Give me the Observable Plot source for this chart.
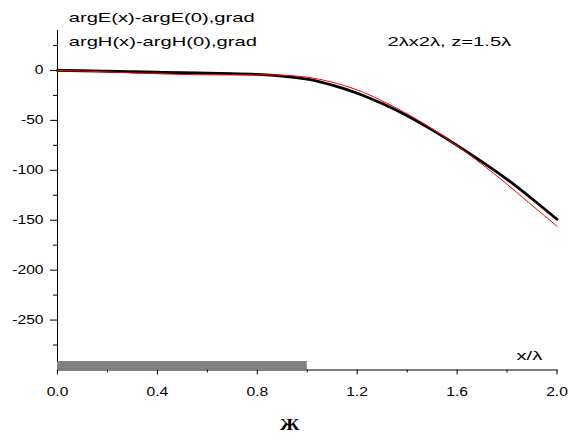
<!DOCTYPE html>
<html><head><meta charset="utf-8">
<script src="https://cdn.jsdelivr.net/npm/d3@7"></script>
<script src="https://cdn.jsdelivr.net/npm/@observablehq/plot@0.6"></script>
<style>body{margin:0;background:#fff}</style>
</head><body><div id="chart"></div>
<script>
const xs   = [0.0,0.1,0.2,0.3,0.4,0.5,0.6,0.7,0.8,0.9,1.0,1.1,1.2,1.3,1.4,1.5,1.6,1.7,1.8,1.9,2.0];
const argE = [0,-0.3,-0.8,-1.3,-1.8,-2.3,-2.7,-3.2,-4.0,-5.6,-8.8,-14.8,-22.8,-33.2,-45.3,-59.5,-75,-91.5,-109,-128.5,-149];
const argH = [0,-0.6,-1.5,-2.5,-3.3,-4.0,-4.4,-4.5,-4.4,-4.8,-6.8,-11.8,-19.5,-30.5,-43.5,-58.5,-75.5,-94,-114,-135,-156];
const xTicks = [0,0.4,0.8,1.2,1.6,2.0];
const xMinor = [0.2,0.6,1.0,1.4,1.8];
const yTicks = [0,-50,-100,-150,-200,-250];
const yMinor = [25,-25,-75,-125,-175,-225,-275];
const aperture = [0, 1.0];
const titleE = "argE(x)-argE(0),grad";
const titleH = "argH(x)-argH(0),grad";
const subtitle = "2λx2λ, z=1.5λ";
const xLabel = "x/λ";
const caption = "Ж";

const rows = xs.map((x, i) => ({x, e: argE[i], h: argH[i]}));

const chart = Plot.plot({
  width: 570, height: 445,
  marginLeft: 57, marginRight: 13.5, marginTop: 30, marginBottom: 75.5,
  style: {fontFamily: "'Liberation Sans', Arial, sans-serif", fontSize: "12px", background: "white", color: "black"},
  x: {domain: [0, 2], ticks: xTicks, tickFormat: d3.format(".1f"), tickSize: 5, tickPadding: 12, line: true, label: null},
  y: {domain: [-300, 40], ticks: yTicks, tickFormat: d => String(d), tickSize: 7, tickPadding: 7, line: true, label: null},
  marks: [
    Plot.rect([aperture], {x1: d => d[0], x2: d => d[1], y1: -300, y2: -291.5, fill: "#808080"}),
    Plot.ruleX(xMinor, {y1: -300, y2: -303, stroke: "black"}),
    Plot.ruleY(yMinor, {x1: 0, x2: -0.016, stroke: "black"}),
    Plot.line(rows, {x: "x", y: "e", stroke: "black", strokeWidth: 2.8, curve: "natural"}),
    Plot.line(rows, {x: "x", y: "h", stroke: "#ff0000", strokeWidth: 1, curve: "natural"}),
    Plot.text([titleE], {x: 0.045, y: 52.5, text: d => d, textAnchor: "start", fontSize: 13, fill: "black"}),
    Plot.text([titleH], {x: 0.045, y: 28.5, text: d => d, textAnchor: "start", fontSize: 13, fill: "black"}),
    Plot.text([subtitle], {x: 1.321, y: 28.5, text: d => d, textAnchor: "start", fontSize: 13, fill: "black"}),
    Plot.text([xLabel], {x: 1.838, y: -286.3, text: d => d, textAnchor: "start", fontSize: 13, fill: "black"}),
    Plot.text([caption], {x: 0.929, y: -354.6, text: d => d, textAnchor: "middle", fontSize: 16, fontWeight: "bold", fontFamily: "'Liberation Serif', 'Times New Roman', serif", fill: "black"})
  ]
});
document.getElementById("chart").append(chart);
chart.querySelectorAll("text").forEach(t => {
  const f = t.textContent === caption ? 1.25 : t.closest('[aria-label*="axis"]') ? 1.3 : 1.55;
  const w = t.getComputedTextLength();
  t.setAttribute("textLength", w * f);
  t.setAttribute("lengthAdjust", "spacingAndGlyphs");
});
</script>
</body></html>
